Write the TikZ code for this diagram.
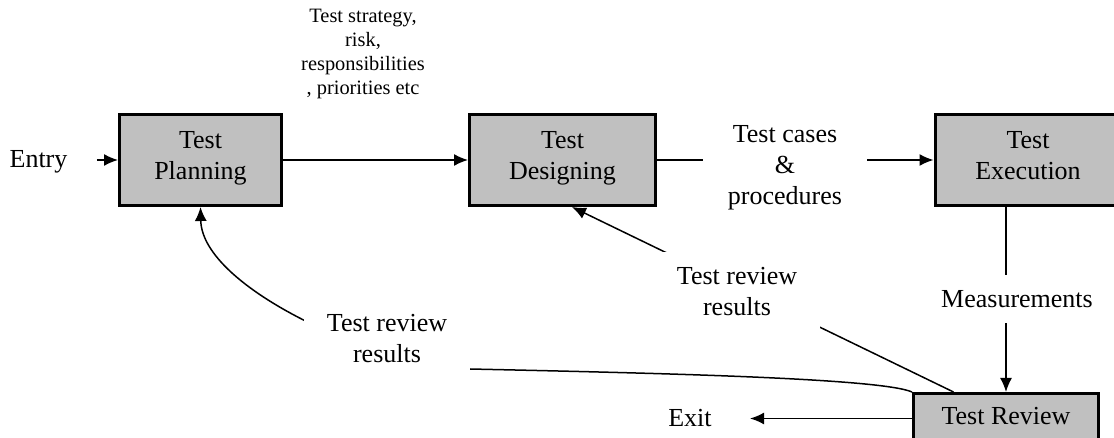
\documentclass[tikz,border=0pt]{standalone}
\usepackage{fontspec}
\setmainfont{Liberation Serif}
\usetikzlibrary{arrows.meta,positioning}

\definecolor{boxgray}{HTML}{C0C0C0}

\tikzset{
    stage/.style={draw, line width=1.5pt, fill=boxgray, align=center, inner sep=0pt,
        font=\fontsize{13}{15.5}\selectfont, minimum height=45.5pt,
        execute at end node=\strut},
    flow/.style={line width=0.75pt, -{Latex[length=7pt,width=6pt]}},
    gaplabel/.style={fill=white, align=center, inner sep=0pt,
        font=\fontsize{13}{15.5}\selectfont},
    smalllabel/.style={align=center, font=\fontsize{10.2}{12}\selectfont}
}

\begin{document}
\begin{tikzpicture}[x=0.5pt, y=0.5pt]
    \useasboundingbox (0,0) rectangle (1114,438);

    %% Test process

    % Stages
    \node[stage, minimum width=81pt] (plan) at (200.5,278) {Test\\Planning};
    \node[stage, minimum width=93pt] (design) at (562.5,278) {Test\\Designing};
    \node[stage, minimum width=93pt] (exec) at (1028,278) {Test\\Execution};
    \node[stage, minimum width=92.5pt, minimum height=25pt] (review) at (1006,19.5) {Test Review};

    % Entry and exit
    \node[gaplabel] (entry) at (38.5,276) {Entry};
    \node[gaplabel] (exit) at (690,19.5) {Exit};
    \draw[flow, shorten <=14.5pt] (entry.east |- plan.west) -- (plan.west);
    \draw[flow, shorten >=19pt] (review.west) -- (exit.east |- review.west);

    % Flow
    \draw[flow] (plan) -- (design);
    \draw[flow] (design) -- (exec);
    \draw[flow] (review.north |- exec.south) -- (review.north);

    % Feedback
    \draw[flow] ([xshift=20.75pt]review.north west) -- ([xshift=4.75pt]design.south);
    \draw[flow] (review.north west) .. controls (880,60) and (650,65) .. (470,69)
        .. controls (380,71) and (202,150) .. (plan.south);

    % Labels
    \node[smalllabel] (strategy) at (363,384) {Test strategy,\\risk,\\responsibilities\\, priorities etc};
    \node[gaplabel, inner xsep=12.5pt, inner ysep=4pt] (cases) at (785,270) {Test cases\\\&\\procedures};
    \node[gaplabel, minimum height=24pt] (meas) at (1017,139) {Measurements};
    \node[gaplabel, minimum width=83pt, minimum height=40pt] (designres) at (737,146) {Test review\\results};
    \node[gaplabel, minimum width=83pt, minimum height=40pt] (planres) at (387,99) {Test review\\results};

\end{tikzpicture}
\end{document}
